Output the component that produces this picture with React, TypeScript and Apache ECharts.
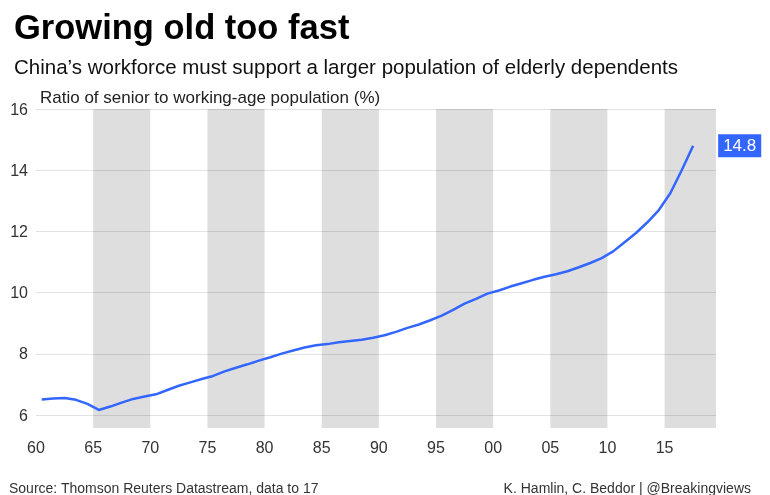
import React, { useEffect, useRef } from "react";
import * as echarts from "echarts";

const years = [
  1960, 1961, 1962, 1963, 1964, 1965, 1966, 1967, 1968, 1969,
  1970, 1971, 1972, 1973, 1974, 1975, 1976, 1977, 1978, 1979,
  1980, 1981, 1982, 1983, 1984, 1985, 1986, 1987, 1988, 1989,
  1990, 1991, 1992, 1993, 1994, 1995, 1996, 1997, 1998, 1999,
  2000, 2001, 2002, 2003, 2004, 2005, 2006, 2007, 2008, 2009,
  2010, 2011, 2012, 2013, 2014, 2015, 2016, 2017,
];
const ratio = [
  6.51, 6.54, 6.56, 6.5, 6.37, 6.17, 6.28, 6.41, 6.53, 6.61,
  6.68, 6.82, 6.96, 7.07, 7.18, 7.28, 7.43, 7.55, 7.66, 7.78,
  7.89, 8.01, 8.11, 8.21, 8.28, 8.32, 8.38, 8.42, 8.46, 8.53,
  8.61, 8.72, 8.85, 8.96, 9.1, 9.25, 9.44, 9.64, 9.8, 9.97,
  10.07, 10.2, 10.31, 10.42, 10.52, 10.6, 10.7, 10.83, 10.97, 11.13,
  11.35, 11.65, 11.95, 12.3, 12.7, 13.25, 14.0, 14.8,
];
const xTicks = [1960, 1965, 1970, 1975, 1980, 1985, 1990, 1995, 2000, 2005, 2010, 2015];
const yTicks = [6, 8, 10, 12, 14, 16];
const bandStarts = [1965, 1975, 1985, 1995, 2005, 2015];
const xMin = 1960;
const xMax = 2019.5;
const yMin = 5.58;
const yMax = 16;

const FONT = "'Liberation Sans', Arial, Helvetica, sans-serif";
const BLUE = "#3366ff";

export default function App() {
  const ref = useRef<HTMLDivElement>(null);
  useEffect(() => {
    if (!ref.current) return;
    const chart = echarts.init(ref.current, null, { renderer: "svg" });
    const lineData = years.map((y, i) => [y + 0.5, ratio[i]]);
    const bands = bandStarts.map((s) => [
      { xAxis: s },
      { xAxis: Math.min(s + 5, xMax) },
    ]);
    chart.setOption({
      animation: false,
      textStyle: { fontFamily: FONT },
      title: [
        {
          text: "Growing old too fast",
          left: 9,
          top: 4,
          textStyle: { fontFamily: FONT, fontSize: 34.5, fontWeight: "bold", color: "#000" },
        },
        {
          text: "China\u2019s workforce must support a larger population of elderly dependents",
          left: 9,
          top: 51,
          textStyle: { fontFamily: FONT, fontSize: 20.5, fontWeight: "normal", color: "#111" },
        },
        {
          text: "Ratio of senior to working-age population (%)",
          left: 35,
          top: 84,
          textStyle: { fontFamily: FONT, fontSize: 17, fontWeight: "normal", color: "#222" },
        },
        {
          text: "Source: Thomson Reuters Datastream, data to 17",
          left: 4,
          top: 476,
          textStyle: { fontFamily: FONT, fontSize: 14, fontWeight: "normal", color: "#333" },
        },
        {
          text: "K. Hamlin, C. Beddor | @Breakingviews",
          right: 14,
          top: 476,
          textStyle: { fontFamily: FONT, fontSize: 14, fontWeight: "normal", color: "#333" },
        },
      ],
      grid: { left: 36, right: 54, top: 109, bottom: 67, containLabel: false },
      xAxis: {
        type: "value",
        min: xMin,
        max: xMax,
        interval: 5,
        axisLine: { show: false },
        axisTick: { show: false, customValues: xTicks },
        splitLine: { show: false },
        axisLabel: {
          customValues: xTicks,
          margin: 11,
          fontSize: 16,
          color: "#333",
          fontFamily: FONT,
          formatter: (v: number) => String(Math.round(v) % 100).padStart(2, "0"),
        },
      },
      yAxis: {
        type: "value",
        min: yMin,
        max: yMax,
        axisLine: { show: false },
        axisTick: { show: false, customValues: yTicks },
        splitLine: { show: true, lineStyle: { color: "#e3e3e3", width: 1 } },
        axisLabel: {
          customValues: yTicks,
          margin: 8,
          fontSize: 16,
          color: "#333",
          fontFamily: FONT,
        },
      },
      series: [
        {
          type: "line",
          data: lineData,
          showSymbol: false,
          symbol: "none",
          lineStyle: { color: BLUE, width: 2.5 },
          clip: false,
          markArea: {
            silent: true,
            itemStyle: { color: "rgba(0,0,0,0.13)" },
            data: bands,
          },
          endLabel: {
            show: true,
            formatter: (p: any) => Number(p.value[1]).toFixed(1),
            color: "#fff",
            backgroundColor: BLUE,
            padding: [3, 5, 3, 5],
            fontSize: 17,
            fontFamily: FONT,
            distance: 25,
          },
        },
      ],
    });
    return () => chart.dispose();
  }, []);
  return (
    <div
      ref={ref}
      style={{ position: "fixed", left: 0, top: 0, width: 770, height: 495 }}
    />
  );
}
